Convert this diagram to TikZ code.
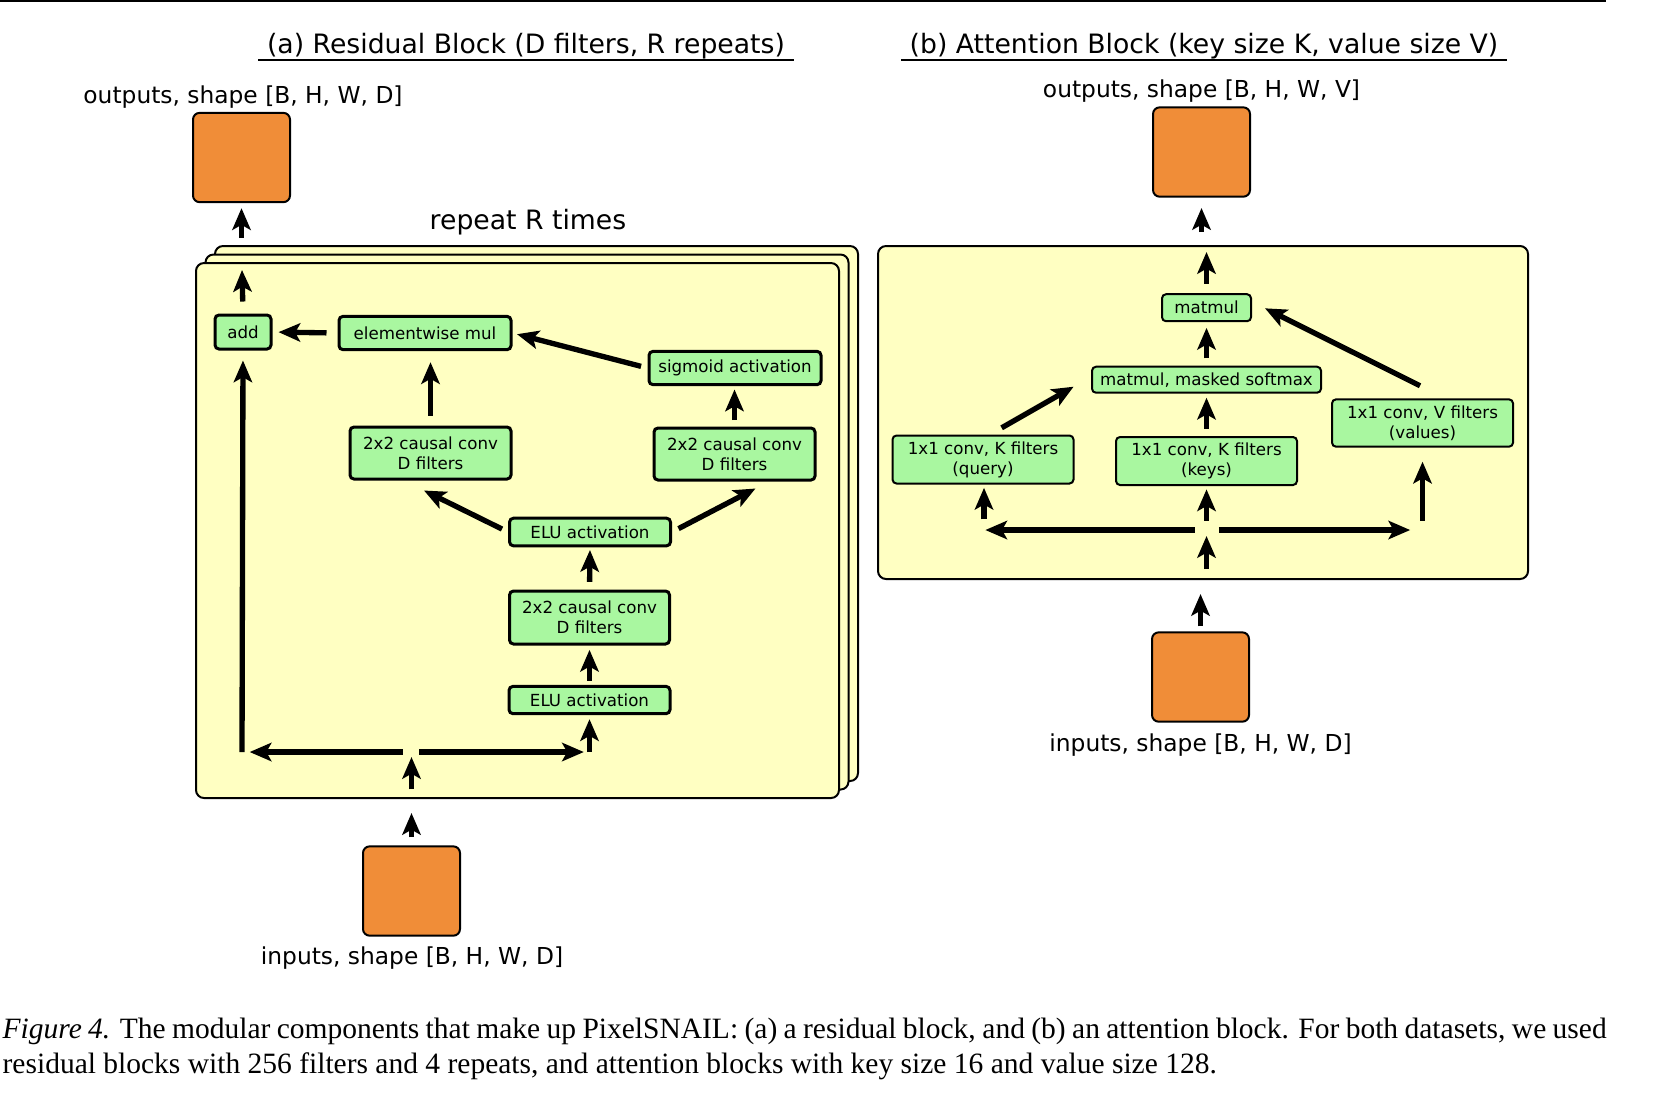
\documentclass[tikz,border=0pt]{standalone}
\usepackage{fontspec}
\setmainfont{DejaVu Sans}
\newfontfamily\capfont{Liberation Serif}
\usetikzlibrary{arrows.meta}

\definecolor{tensorc}{HTML}{F08D38}
\definecolor{opc}{HTML}{A9F7A0}
\definecolor{panelc}{HTML}{FFFFC2}

\begin{document}
\begin{tikzpicture}[
  x=0.3pt, y=-0.3pt,
  tensor/.style={draw,line width=0.6pt,fill=tensorc,rounded corners=2pt,
    minimum width=29.1pt,minimum height=26.8pt,inner sep=0pt},
  panel/.style={draw,line width=0.6pt,fill=panelc,rounded corners=2.4pt,inner sep=0pt},
  op/.style 2 args={draw,line width=0.9pt,fill=opc,rounded corners=1.2pt,inner sep=0pt,
    align=center,font=\fontsize{5}{6}\selectfont,minimum width=#1,minimum height=#2},
  thinop/.style={line width=0.6pt},
  lbl/.style={font=\fontsize{7}{8.4}\selectfont,inner sep=0pt},
  title/.style={font=\fontsize{8}{9.6}\selectfont,inner xsep=2.4pt,inner ysep=0pt},
  uline/.style={line width=0.6pt},
  captext/.style={font=\capfont\fontsize{8.85}{10.5}\selectfont,inner sep=0pt,anchor=base west},
  arr/.style={line width=1.6pt,-{Stealth[length=6.5pt,width=5.5pt,inset=1.5pt]}}
]
\useasboundingbox (0,0) rectangle (1660,1104);
\draw[line width=0.75pt] (0,1) -- (1606,1);

% (a) residual block
\node[title] (ta) at (526,46) {(a) Residual Block (D filters, R repeats)};
\draw[uline] (ta.south west) -- (ta.south east);
\node[lbl] (oAl) at (243,97) {outputs, shape [B, H, W, D]};
\node[tensor] (oA) at (241.5,157.5) {};
\node[title] (rep) at (528,222) {repeat R times};
\node[panel,minimum width=192.9pt,minimum height=160.5pt] (back) at (536.5,513.5) {};
\node[panel,minimum width=192.9pt,minimum height=160.5pt] (mid) at (527,522) {};
\node[panel,minimum width=192.9pt,minimum height=160.5pt] (front) at (517.5,530.5) {};

\node[op={16.8pt}{10.2pt}] (add) at (243,332) {add};
\node[op={51.6pt}{10pt}] (emul) at (425,333) {elementwise mul};
\node[op={51.6pt}{10pt}] (sig) at (735,368) {sigmoid activation};
\node[op={48.3pt}{15.6pt}] (convl) at (430.5,453) {2x2 causal conv\\D filters};
\node[op={48.3pt}{15.6pt}] (convr) at (734.5,454) {2x2 causal conv\\D filters};
\node[op={48.3pt}{8.3pt}] (elut) at (590,532) {ELU activation};
\node[op={48pt}{15.9pt}] (convm) at (589.5,617.5) {2x2 causal conv\\D filters};
\node[op={48.3pt}{8.2pt}] (elub) at (589.5,700) {ELU activation};

\coordinate (fork) at (411.5,752);
\coordinate (skip) at (242,752);
\coordinate (main) at (589.5,752);
\coordinate (addout) at (242,270);

\node[tensor] (inA) at (411.5,891) {};
\node[lbl] (inAl) at (412,958) {inputs, shape [B, H, W, D]};

\draw[arr,shorten <=2.1pt,shorten >=1.5pt] (oA.south |- back.north) -- (oA.south);
\draw[arr,shorten <=3.6pt] (add.north) -- (addout);
\draw[arr,shorten <=3.3pt,shorten >=1.8pt] (emul.west) -- (add.east);
\draw[arr,shorten <=2pt,shorten >=1.4pt] (sig.west) -- (emul.east);
\draw[arr,shorten <=3pt,shorten >=3.3pt] (convl.north) -- (convl.north |- emul.south);
\draw[arr,shorten <=1.9pt,shorten >=1pt] (convr.north) -- (convr.north |- sig.south);
\draw[arr,shorten <=2pt] (elut.west) -- ([shift={(-6.5,10)}]convl.south);
\draw[arr,shorten <=2.2pt] (elut.east) -- ([shift={(21,7)}]convr.south);
\draw[arr,shorten <=2.3pt,shorten >=0.8pt] (convm.north) -- (elut.south);
\draw[arr,shorten <=1.3pt,shorten >=1.3pt] (elub.north) -- (convm.south);
\draw[arr,shorten <=2.7pt,shorten >=2.3pt] (fork) -- (skip);
\draw[arr,shorten <=2.3pt,shorten >=1.7pt] (fork) -- (main);
\draw[arr,shorten >=3pt] (skip) -- (add.south);
\draw[arr,shorten >=1.2pt] (main) -- (elub.south);
\draw[arr,shorten <=2.9pt,shorten >=1.5pt] (fork |- front.south) -- (fork);
\draw[arr,shorten <=2.4pt,shorten >=4.2pt] (inA.north) -- (inA.north |- front.south);

% (b) attention block
\node[title] (tb) at (1204,46) {(b) Attention Block (key size K, value size V)};
\draw[uline] (tb.south west) -- (tb.south east);
\node[lbl] (oBl) at (1201.5,91) {outputs, shape [B, H, W, V]};
\node[tensor] (oB) at (1201.5,152) {};
\node[panel,minimum width=195pt,minimum height=99.9pt] (att) at (1203,412.5) {};

\node[op={26.7pt}{8.1pt},thinop] (mm) at (1206.5,307.7) {matmul};
\node[op={68.7pt}{7.8pt},thinop] (sm) at (1206.5,379.7) {matmul, masked softmax};
\node[op={54.3pt}{14.4pt},thinop] (qry) at (983,459.5) {1x1 conv, K filters\\(query)};
\node[op={54.3pt}{14.4pt},thinop] (key) at (1206.5,461) {1x1 conv, K filters\\(keys)};
\node[op={54.3pt}{14.2pt},thinop] (val) at (1422.5,423) {1x1 conv, V filters\\(values)};

\coordinate (forkB) at (1206.5,530);
\coordinate (qin) at (984,530);
\coordinate (vin) at (1422.5,530);

\node[tensor] (inB) at (1200.5,677) {};
\node[lbl] (inBl) at (1200.5,745) {inputs, shape [B, H, W, D]};

\draw[arr,shorten <=3.9pt,shorten >=3.1pt] (oB.south |- att.north) -- (oB.south);
\draw[arr,shorten <=2.8pt,shorten >=2.1pt] (mm.north) -- (mm.north |- att.north);
\draw[arr,shorten <=2.2pt,shorten >=1.7pt] (sm.north) -- (mm.south);
\draw[arr,shorten <=2.2pt,shorten >=1.2pt] (key.north) -- (sm.south);
\draw[arr] ([shift={(18.6,-6.7)}]qry.north) -- ([shift={(-17.4,7)}]sm.west);
\draw[arr] ([shift={(-2.5,-12.6)}]val.north) -- ([shift={(13,0.6)}]mm.east);
\draw[arr,shorten <=3.5pt,shorten >=0.4pt] (forkB) -- (qin);
\draw[arr,shorten <=3.7pt,shorten >=3.7pt] (forkB) -- (vin);
\draw[arr,shorten <=3.2pt,shorten >=1pt] (qin) -- (qin |- qry.south);
\draw[arr,shorten <=2.8pt,shorten >=1pt] (forkB) -- (key.south);
\draw[arr,shorten <=2.8pt,shorten >=4.2pt] (vin) -- (val.south);
\draw[arr,shorten <=3.3pt,shorten >=1.8pt] (forkB |- att.south) -- (forkB);
\draw[arr,shorten <=1.5pt,shorten >=4.2pt] (inB.north) -- (inB.north |- att.south);

\node[captext] (cap1) at (2,1038.5) {\hbox to 481.2pt{\textit{Figure 4.} The modular components that make up PixelSNAIL: (a) a residual block, and (b) an attention block. For both datasets, we used}};
\node[captext] (cap2) at (2,1073) {residual blocks with 256 filters and 4 repeats, and attention blocks with key size 16 and value size 128.};
\end{tikzpicture}
\end{document}
